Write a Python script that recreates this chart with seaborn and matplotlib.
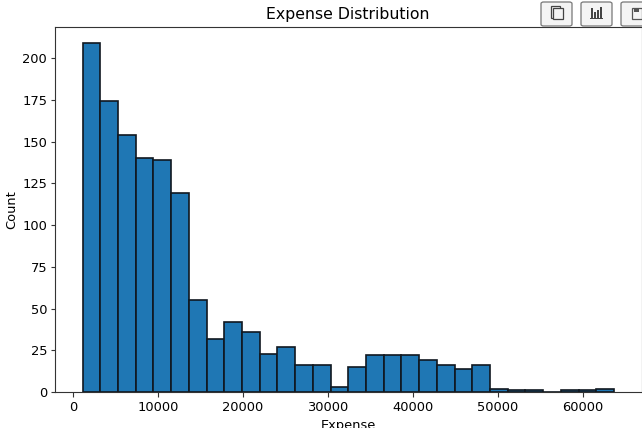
import matplotlib
matplotlib.use("Agg")
import matplotlib.pyplot as plt
import seaborn as sns
import numpy as np
import pandas as pd
from matplotlib.patches import FancyBboxPatch, Rectangle

counts = [209, 174, 154, 140, 139, 119, 55, 32, 42, 36, 23, 27, 16, 16, 3, 15, 22, 22, 22, 19, 16, 14, 16, 2, 1, 1, 0, 1, 1, 2]
bin_min = 1122.0
bin_max = 63650.0
title = "Expense Distribution"
xlabel = "Expense"
ylabel = "Count"

edges = np.linspace(bin_min, bin_max, len(counts) + 1)
centers = (edges[:-1] + edges[1:]) / 2
df = pd.DataFrame({"Expense": centers, "n": counts})

fig = plt.figure(figsize=(6.42, 4.28), dpi=100)
ax = fig.add_axes([55 / 642, 1 - 392 / 428, (641.5 - 55) / 642, (392 - 27) / 428])
sns.histplot(data=df, x="Expense", weights="n", bins=len(counts), binrange=(bin_min, bin_max),
             color="#1f77b4", alpha=1, edgecolor="#101820", linewidth=1.2, ax=ax)
ax.set_xlim(-2118, 66882)
ax.set_ylim(0, 218.6)
ax.set_title(title, fontsize=11.3, pad=6)
ax.set_xlabel(xlabel, fontsize=9.4, labelpad=3)
ax.set_ylabel(ylabel, fontsize=9.4, labelpad=2.5)
ax.tick_params(axis="x", labelsize=9.4, length=3.3, color="#333333")
ax.tick_params(axis="y", labelsize=9.4, length=2.6, pad=3, color="#333333")
ax.set_xticks(range(0, 70000, 10000))
ax.set_yticks(range(0, 201, 25))
for s in ax.spines.values():
    s.set_edgecolor("#333333")


def px_rect(x, y, w, h, **kw):
    fig.add_artist(Rectangle((x / 642, 1 - (y + h) / 428), w / 642, h / 428,
                             transform=fig.transFigure, zorder=6, **kw))


for x0 in (541, 581, 621):
    fig.add_artist(FancyBboxPatch((x0 / 642, 1 - 26 / 428), 31 / 642, 24 / 428,
                   boxstyle="round,pad=0,rounding_size=0.004", transform=fig.transFigure,
                   facecolor="#f4f4f4", edgecolor="#777777", linewidth=0.9, zorder=5))

# copy icon
px_rect(551, 6, 9, 12, facecolor="none", edgecolor="#444444", linewidth=0.9)
px_rect(553, 8, 10, 11, facecolor="#f4f4f4", edgecolor="#444444", linewidth=0.9)
# bar-chart icon
for bx, bh in zip((591, 594, 597, 600), (10, 6, 8, 11)):
    px_rect(bx, 18 - bh, 2, bh, facecolor="#444444", edgecolor="none")
px_rect(590, 18, 13, 1, facecolor="#444444", edgecolor="none")
# save icon
px_rect(632, 8, 10, 11, facecolor="none", edgecolor="#555555", linewidth=0.9)
px_rect(634, 8, 5, 4, facecolor="#555555", edgecolor="none")

fig.savefig("out.png", dpi=100)
